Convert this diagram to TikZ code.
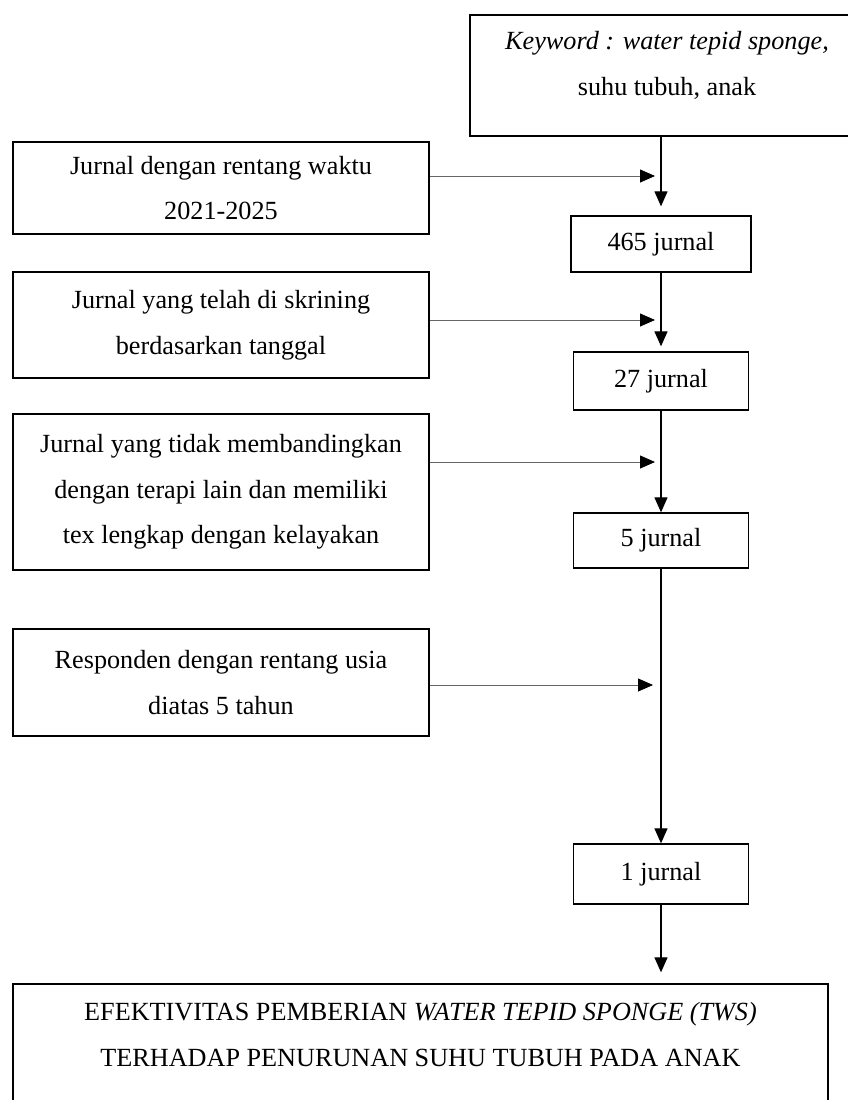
\documentclass[tikz,border=0pt]{standalone}
\usepackage{fontspec}
\setmainfont{Liberation Serif}
\usetikzlibrary{arrows.meta}
\begin{document}
\begin{tikzpicture}[x=1pt,y=-1pt]

\tikzset{frame/.style={draw,rectangle,line width=1.3pt,inner sep=0pt}}
\tikzset{txt/.style={align=center,font=\fontsize{26.2}{45.5}\selectfont}}
\tikzset{crit/.style={frame,txt,minimum width=416pt}}
\tikzset{res/.style={frame,txt}}
\tikzset{toRes/.style={-{Triangle[length=15pt,width=13pt]},line width=1.2pt}}
\tikzset{toFlow/.style={-{Triangle[length=15pt,width=13pt,color=black]},line width=0.8pt,color=black!60}}

\clip (0,0) rectangle (848,1100);

% keyword box, cut by the page on the right
\node[frame,minimum width=394pt,minimum height=121pt] (K) at (667,75.5) {};
\node[txt] (Kt) at (667,65.5) {\textit{Keyword : water tepid sponge,}\\ suhu tubuh, anak};

\node[crit,minimum height=92pt] (c1) at (221,188) {Jurnal dengan rentang waktu\\ 2021-2025};
\node[crit,minimum height=106pt] (c2) at (221,325) {Jurnal yang telah di skrining\\ berdasarkan tanggal};
\node[crit,minimum height=156pt] (c3) at (221,492) {Jurnal yang tidak membandingkan\\ dengan terapi lain dan memiliki\\ tex lengkap dengan kelayakan};
\node[crit,minimum height=107pt] (c4) at (221,682.5) {Responden dengan rentang usia\\ diatas 5 tahun};

\node[res,minimum width=180pt,minimum height=56pt] (j465) at (661,244) {465 jurnal};
\node[res,minimum width=175pt,minimum height=58pt] (j27) at (661,381) {27 jurnal};
\node[res,minimum width=175pt,minimum height=55pt] (j5) at (661,540.5) {5 jurnal};
\node[res,minimum width=175pt,minimum height=60pt] (j1) at (661,874) {1 jurnal};

% result box, cut by the page at the bottom
\node[frame,minimum width=815pt,minimum height=156pt] (E) at (420.5,1062) {};
\node[txt] (Et) at (420.5,1034.5) {EFEKTIVITAS PEMBERIAN \textit{WATER TEPID SPONGE (TWS)}\\ TERHADAP PENURUNAN SUHU TUBUH PADA ANAK};

\coordinate (h1) at (655,176);
\coordinate (h2) at (655,320);
\coordinate (h3) at (655,462);
\coordinate (h4) at (653,685);
\draw[toFlow] (c1.east |- h1) -- (h1);
\draw[toFlow] (c2.east |- h2) -- (h2);
\draw[toFlow] (c3.east |- h3) -- (h3);
\draw[toFlow] (c4.east |- h4) -- (h4);

\draw[toRes,shorten >=9pt] (K.south -| j465) -- (j465);
\draw[toRes,shorten >=5pt] (j465) -- (j27);
\draw[toRes] (j27) -- (j5);
\draw[toRes] (j5) -- (j1);
\draw[toRes,shorten >=11pt] (j1) -- (j1 |- E.north);

\end{tikzpicture}
\end{document}
